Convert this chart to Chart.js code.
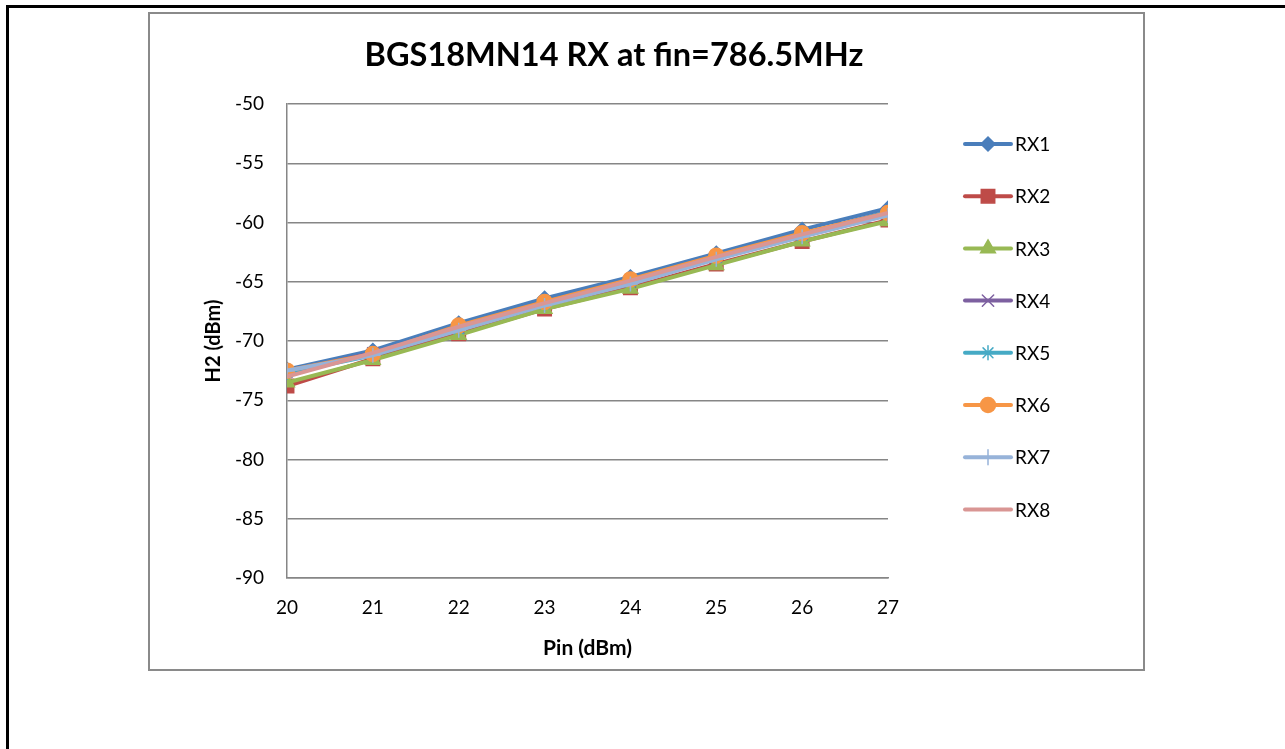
<!DOCTYPE html>
<html>
<head>
<meta charset="utf-8">
<script src="https://cdn.jsdelivr.net/npm/chart.js@4.4.1/dist/chart.umd.min.js"></script>
<style>
  html, body { margin: 0; padding: 0; background: #fff; }
  body { width: 1285px; height: 749px; position: relative; overflow: hidden; }
  #frame { position: absolute; left: 6px; top: 5px; width: 1400px; height: 900px;
           border-top: 3px solid #000; border-left: 3px solid #000; }
  #box { position: absolute; left: 148px; top: 12px; width: 993px; height: 655px;
         border: 2px solid #8a8a8a; background: #fff; }
  #box canvas { display: block; }
</style>
</head>
<body>
<div id="frame"></div>
<div id="box"><canvas id="chart" width="993" height="655"></canvas></div>
<script>
// Pin (dBm) on the x axis
const pinValues = [20, 21, 22, 23, 24, 25, 26, 27];

// H2 (dBm) per RX path
const rx1 = [-72.4, -70.8, -68.5, -66.4, -64.6, -62.6, -60.6, -58.8];
const rx2 = [-73.8, -71.5, -69.4, -67.3, -65.5, -63.5, -61.6, -59.8];
const rx3 = [-73.5, -71.6, -69.5, -67.3, -65.6, -63.6, -61.6, -59.9];
const rx4 = [-72.6, -71.0, -68.9, -66.7, -65.0, -62.9, -61.0, -59.1];
const rx5 = [-72.7, -71.2, -69.0, -66.9, -65.0, -63.0, -61.1, -59.1];
const rx6 = [-72.5, -71.1, -68.7, -66.7, -64.8, -62.8, -60.9, -59.2];
const rx7 = [-72.5, -71.2, -69.1, -67.0, -65.2, -63.1, -61.2, -59.4];
const rx8 = [-73.0, -71.0, -68.8, -66.8, -64.9, -62.9, -61.0, -59.2];

const seriesNames = ['RX1', 'RX2', 'RX3', 'RX4', 'RX5', 'RX6', 'RX7', 'RX8'];
const seriesValues = [rx1, rx2, rx3, rx4, rx5, rx6, rx7, rx8];
const seriesColors = ['#4a7ebb', '#be4b48', '#98b954', '#7d60a0', '#46aac5', '#f79646', '#97b3d9', '#d99694'];
const seriesMarkers = ['rectRot', 'rect', 'triangle', 'crossRot', 'star', 'circle', 'cross', false];
const markerSizes = [7, 9.5, 8.5, 8, 7, 7.5, 7.5, 0];

const yTicks = [-90, -85, -80, -75, -70, -65, -60, -55, -50];

const FONT = 'Lato, "Open Sans", sans-serif';

const datasets = seriesNames.map((name, i) => ({
  label: name,
  data: pinValues.map((x, j) => ({ x: x, y: seriesValues[i][j] })),
  borderColor: seriesColors[i],
  backgroundColor: seriesColors[i],
  pointBackgroundColor: seriesColors[i],
  pointBorderColor: seriesColors[i],
  pointBorderWidth: 1.5,
  pointStyle: seriesMarkers[i],
  pointRadius: markerSizes[i],
  borderWidth: 4,
  tension: 0,
  order: seriesNames.length - i
}));

// title and Excel style legend (line with marker) drawn by hand
const excelDecor = {
  id: 'excelDecor',
  afterDraw(chart) {
    const ctx = chart.ctx;
    ctx.save();
    ctx.fillStyle = '#000';
    ctx.font = 'bold 32.5px ' + FONT;
    ctx.textAlign = 'center';
    ctx.textBaseline = 'middle';
    ctx.fillText('BGS18MN14 RX at fin=786.5MHz', 464, 42);

    ctx.font = '19px ' + FONT;
    ctx.textAlign = 'left';
    chart.data.datasets.forEach((ds, i) => {
      const y = 130 + i * 52.2;
      ctx.strokeStyle = ds.borderColor;
      ctx.lineWidth = 4;
      ctx.lineCap = 'round';
      ctx.beginPath();
      ctx.moveTo(815, y);
      ctx.lineTo(861, y);
      ctx.stroke();
      if (ds.pointStyle) {
        ctx.fillStyle = ds.pointBackgroundColor;
        ctx.strokeStyle = ds.pointBorderColor;
        ctx.lineWidth = 1.5;
        Chart.helpers.drawPoint(ctx, { pointStyle: ds.pointStyle, radius: ds.pointRadius, borderWidth: 1.5, rotation: 0 }, 838, y);
      }
      ctx.fillStyle = '#000';
      ctx.fillText(ds.label, 865, y + 1);
    });
    ctx.restore();
  }
};

new Chart(document.getElementById('chart'), {
  type: 'line',
  data: { datasets: datasets },
  plugins: [excelDecor],
  options: {
    responsive: false,
    animation: false,
    events: [],
    layout: { padding: { top: 90, right: 255, left: 48, bottom: 4 } },
    plugins: {
      legend: { display: false },
      title: { display: false },
      tooltip: { enabled: false }
    },
    scales: {
      x: {
        type: 'linear',
        min: 20,
        max: 27,
        afterFit: (s) => { s.height = 87; },
        ticks: { stepSize: 1, color: '#000', padding: 18, font: { family: FONT, size: 19 } },
        grid: { display: false, drawTicks: false },
        border: { display: true, color: '#868686', width: 1.5 },
        title: { display: true, text: 'Pin (dBm)', color: '#000', font: { family: FONT, size: 21, weight: 'bold' } }
      },
      y: {
        min: -90,
        max: -50,
        afterFit: (s) => { s.width = 89; },
        afterBuildTicks: (s) => { s.ticks = yTicks.map(v => ({ value: v })); },
        ticks: { color: '#000', padding: 23, font: { family: FONT, size: 19 } },
        grid: { color: '#868686', lineWidth: 1.5, drawTicks: false },
        border: { display: true, color: '#868686', width: 1.5 },
        title: { display: true, text: 'H2 (dBm)', color: '#000', font: { family: FONT, size: 20, weight: 'bold' } }
      }
    }
  }
});
</script>
</body>
</html>
